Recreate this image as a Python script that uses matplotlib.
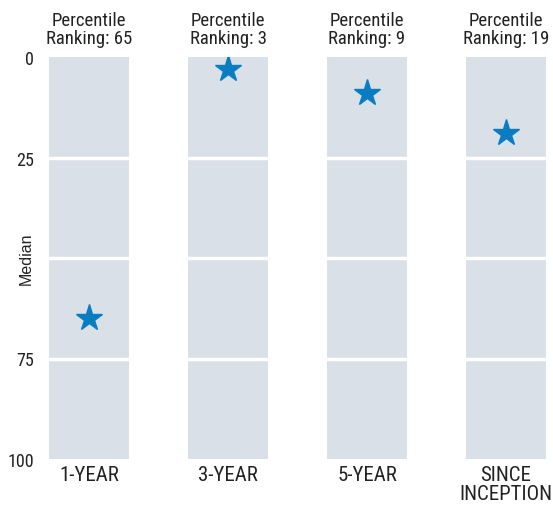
import matplotlib.pyplot as plt

# data
periods = ["1-YEAR", "3-YEAR", "5-YEAR", "SINCE\nINCEPTION"]
rankings = [65, 3, 9, 19]
ytick_vals = [0, 25, 75, 100]

plt.rcParams['font.family'] = ['Roboto Condensed', 'Liberation Sans Narrow', 'Roboto', 'DejaVu Sans']

fig = plt.figure(figsize=(5.53, 5.10), dpi=100)
ax = fig.add_axes([49 / 553, 1 - 460 / 510, 497 / 553, 402 / 510])

bar_col = "#d9e0e8"
star_col = "#0a7dc2"
width = 0.576
x = list(range(len(periods)))

# grey columns spanning the full 0-100 range
ax.bar(x, [100] * len(x), width=width, bottom=0, color=bar_col, zorder=1)

# white separators at the quartiles
for q in [25, 50, 75]:
    ax.axhline(q, color="white", lw=2.5, zorder=2)

ax.plot(x, rankings, linestyle="none", marker="*", ms=20, color=star_col, zorder=3)

for xi, r in zip(x, rankings):
    ax.annotate(f"Percentile\nRanking: {r}", (xi, 0), xytext=(0, 7),
                textcoords="offset points", ha="center", va="bottom",
                fontsize=13.5, color="#222222", linespacing=1.0,
                annotation_clip=False)

ax.set_xlim(-width / 2, len(x) - 1 + width / 2)
ax.set_ylim(100, 0)
ax.set_yticks(ytick_vals)
ax.set_yticklabels([str(v) for v in ytick_vals])
ax.set_xticks(x)
ax.set_xticklabels(periods, linespacing=1.0)
ax.tick_params(axis="y", length=0, pad=11, labelsize=13, labelcolor="#222222")
ax.tick_params(axis="x", length=0, pad=4, labelsize=15, labelcolor="#222222")
ax.set_ylabel("Median", fontsize=11.5, color="#222222",
              family=['Liberation Sans', 'DejaVu Sans'])
ax.yaxis.set_label_coords(-0.03, 0.5)

for s in ax.spines.values():
    s.set_visible(False)

fig.savefig("out.png", dpi=100)
